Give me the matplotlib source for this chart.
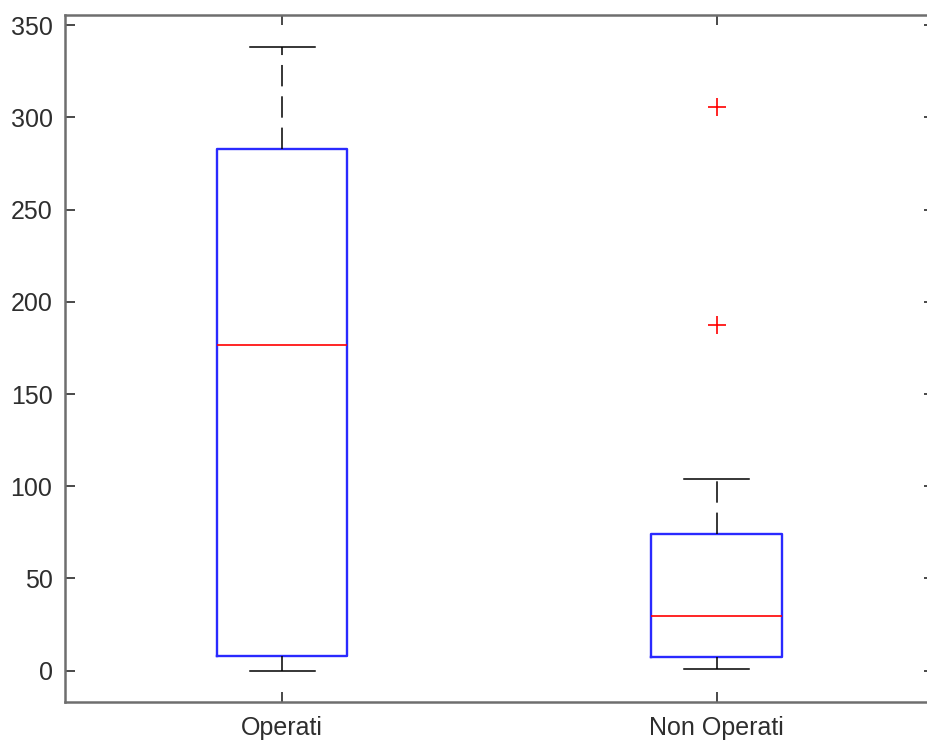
import matplotlib
matplotlib.use("Agg")
import matplotlib.pyplot as plt

categories = ["Operati", "Non Operati"]
whisker_low = [0.0, 0.8]
q1 = [8.0, 7.6]
median = [176.4, 29.8]
q3 = [282.6, 73.9]
whisker_high = [338.0, 103.7]
outliers = [[], [305.5, 187.3]]
yticks = [0, 50, 100, 150, 200, 250, 300, 350]

plt.rcParams['font.family'] = ['Liberation Sans', 'DejaVu Sans']

fig = plt.figure(figsize=(9.27, 7.47), dpi=100)
ax = fig.add_axes([65/927, 45/747, 868.7/927, (702-15)/747])

stats = []
for i, name in enumerate(categories):
    stats.append(dict(label=name, whislo=whisker_low[i], q1=q1[i], med=median[i],
                      q3=q3[i], whishi=whisker_high[i], fliers=outliers[i]))

positions = [1, 2]
ax.bxp(stats, positions=positions, widths=0.3, showfliers=True,
       boxprops=dict(color='#2a2aff', linewidth=1.7),
       medianprops=dict(color='#ff0000', linewidth=1.2),
       whiskerprops=dict(color='black', linewidth=1.1, linestyle=(0, (14, 6.5))),
       capprops=dict(color='black', linewidth=1.1),
       capwidths=0.15,
       flierprops=dict(marker='+', markeredgecolor='#ff0000', markersize=13,
                       markeredgewidth=1.2, linestyle='none'))

ax.set_xlim(0.5, 2.5)
ax.set_ylim(-17, 355.5)
ax.set_yticks(yticks)
ax.set_xticks(positions)
ax.set_xticklabels(categories)

for s in ax.spines.values():
    s.set_color('#6e6e6e')
    s.set_linewidth(1.8)
ax.spines['right'].set_visible(False)

ax.tick_params(axis='both', direction='in', length=7, width=1.3, color='#3a3a3a',
               labelsize=18, labelcolor='#2e2e2e', top=True, right=True)
ax.tick_params(axis='y', pad=9)
ax.tick_params(axis='x', pad=10)

fig.savefig("out.png", dpi=100)
